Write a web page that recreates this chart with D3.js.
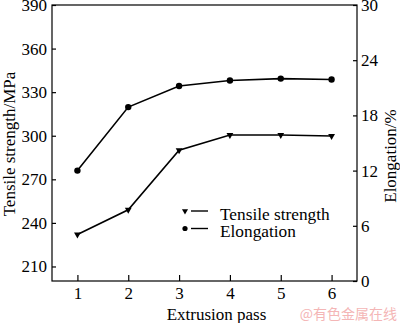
<!DOCTYPE html>
<html><head><meta charset="utf-8">
<script src="https://cdn.jsdelivr.net/npm/d3@7"></script>
<style>body{margin:0;background:#fff}svg{display:block}</style>
</head><body><svg id="c" width="400" height="323"></svg>
<script>
const passes = [1, 2, 3, 4, 5, 6];
const tensile = [232, 249, 290, 300.5, 300.5, 299.8];
const elongation = [12, 18.9, 21.2, 21.8, 22, 21.9];
const leftTicks = [210, 240, 270, 300, 330, 360, 390];
const rightTicks = [0, 6, 12, 18, 24, 30];
const xTicks = [1, 2, 3, 4, 5, 6];
const seriesNames = ["Tensile strength", "Elongation"];

const SERIF = "Liberation Serif";
const svg = d3.select("#c");
const L = 52, R = 357, T = 5, B = 281;
const x = d3.scaleLinear().domain([0.5, 6.5]).range([L, R]);
const yL = d3.scaleLinear().domain([200, 390]).range([B, T]);
const yR = d3.scaleLinear().domain([0, 30]).range([B, T]);
const fs = 17;

// frame
svg.append("rect").attr("x", L).attr("y", T).attr("width", R - L).attr("height", B - T)
  .attr("fill", "none").attr("stroke", "#000").attr("stroke-width", 1.2);

const axL = svg.append("g").attr("transform", `translate(${L},0)`)
  .call(d3.axisLeft(yL).tickValues(leftTicks).tickSize(-4).tickPadding(5).tickFormat(d3.format("d")));
const axR = svg.append("g").attr("transform", `translate(${R},0)`)
  .call(d3.axisRight(yR).tickValues(rightTicks).tickSize(-4).tickPadding(4).tickFormat(d3.format("d")));
const axB = svg.append("g").attr("transform", `translate(0,${B})`)
  .call(d3.axisBottom(x).tickValues(xTicks).tickSize(-6).tickPadding(6).tickFormat(d3.format("d")));
[axL, axR, axB].forEach(g => {
  g.select(".domain").remove();
  g.selectAll(".tick line").attr("stroke", "#000").attr("stroke-width", 1.2);
  g.selectAll(".tick text").attr("fill", "#000").style("font-family", SERIF).style("font-size", fs + "px");
});

// lines
const lineT = d3.line().x((d, i) => x(passes[i])).y(d => yL(d));
const lineE = d3.line().x((d, i) => x(passes[i])).y(d => yR(d));
svg.append("path").datum(tensile).attr("d", lineT).attr("fill", "none").attr("stroke", "#000").attr("stroke-width", 1.6);
svg.append("path").datum(elongation).attr("d", lineE).attr("fill", "none").attr("stroke", "#000").attr("stroke-width", 1.6);

const tri = d3.symbol().type(d3.symbolTriangle).size(20);
svg.selectAll(".t").data(tensile).enter().append("path")
  .attr("d", tri).attr("transform", (d, i) => `translate(${x(passes[i])},${yL(d)}) rotate(180)`).attr("fill", "#000");
svg.selectAll(".e").data(elongation).enter().append("circle")
  .attr("cx", (d, i) => x(passes[i])).attr("cy", d => yR(d)).attr("r", 3.2).attr("fill", "#000");

// legend
const lg = svg.append("g");
const triS = d3.symbol().type(d3.symbolTriangle).size(16);
lg.append("path").attr("d", triS).attr("transform", "translate(185,211) rotate(180)").attr("fill", "#000");
lg.append("line").attr("x1", 191).attr("x2", 208).attr("y1", 211).attr("y2", 211).attr("stroke", "#000").attr("stroke-width", 1.4);
lg.append("text").attr("x", 220).attr("y", 219.5).text(seriesNames[0]);
lg.append("circle").attr("cx", 185).attr("cy", 228.5).attr("r", 2.6).attr("fill", "#000");
lg.append("line").attr("x1", 191).attr("x2", 208).attr("y1", 228.5).attr("y2", 228.5).attr("stroke", "#000").attr("stroke-width", 1.4);
lg.append("text").attr("x", 220).attr("y", 237).text(seriesNames[1]);

// axis titles
const tg = svg.append("g");
tg.append("text").attr("x", 216.5).attr("y", 319.5).attr("text-anchor", "middle").text("Extrusion pass");
tg.append("text").attr("transform", "translate(9,144) rotate(-90)").attr("text-anchor", "middle")
  .attr("dominant-baseline", "central").text("Tensile strength/MPa");
tg.append("text").attr("transform", "translate(390,156) rotate(-90)").attr("text-anchor", "middle")
  .attr("dominant-baseline", "central").text("Elongation/%");
lg.selectAll("text").style("font-family", SERIF).style("font-size", "17.3px").attr("fill", "#000");
tg.selectAll("text").style("font-family", SERIF).style("font-size", fs + "px").attr("fill", "#000");

// watermark
svg.append("text").attr("x", 397).attr("y", 318.5).attr("text-anchor", "end")
  .style("font-size", "14px").style("font-family", "Noto Sans CJK SC")
  .attr("fill", "#f4b6b6").text("@有色金属在线");
</script></body></html>
